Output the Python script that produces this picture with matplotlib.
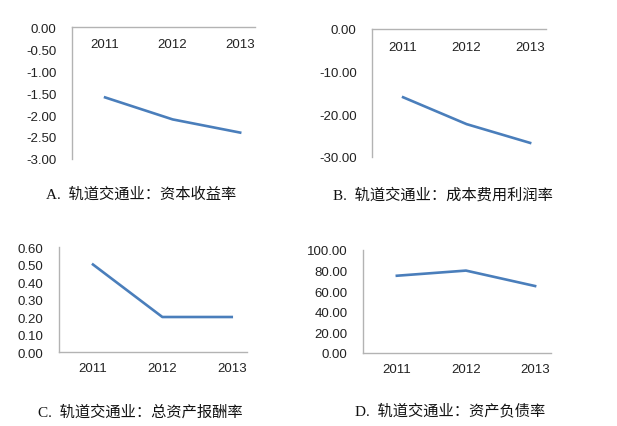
import matplotlib
matplotlib.use("Agg")
import matplotlib.pyplot as plt
from matplotlib.ticker import FormatStrFormatter
import numpy as np

plt.rcParams['axes.unicode_minus'] = False

# data
years = ['2011', '2012', '2013']
capital_return = [-1.60, -2.10, -2.40]        # A. 资本收益率
cost_profit = [-16.0, -22.3, -26.7]           # B. 成本费用利润率
asset_reward = [0.50, 0.20, 0.20]             # C. 总资产报酬率
debt_ratio = [75.0, 80.0, 65.0]               # D. 资产负债率

titles = ['A.  轨道交通业：资本收益率', 'B.  轨道交通业：成本费用利润率',
          'C.  轨道交通业：总资产报酬率', 'D.  轨道交通业：资产负债率']

line_color = '#4a7ebb'
spine_color = '#b3b3b3'
tick_font = ['Liberation Sans', 'DejaVu Sans']
title_font = ['Liberation Serif', 'Noto Sans CJK SC']

fig = plt.figure(figsize=(6.17, 4.27), dpi=100)


def style_axes(ax, ylim, yticks, xlim, top_axis, xpad):
    """Set up one small excel-like line panel"""
    ax.set_ylim(*ylim)
    ax.set_yticks(yticks)
    ax.set_xlim(*xlim)
    ax.set_xticks(range(len(years)))
    ax.set_xticklabels(years)
    ax.yaxis.set_major_formatter(FormatStrFormatter('%.2f'))
    ax.spines['right'].set_visible(False)
    for s in ['left', 'top', 'bottom']:
        ax.spines[s].set_color(spine_color)
        ax.spines[s].set_linewidth(1.0)
    if top_axis:
        ax.spines['bottom'].set_visible(False)
        ax.tick_params(axis='x', top=False, bottom=False, labeltop=True,
                       labelbottom=False, pad=xpad)
    else:
        ax.spines['top'].set_visible(False)
        ax.tick_params(axis='x', bottom=False, pad=xpad)
    ax.tick_params(axis='y', left=False, pad=7.5)
    for lab in ax.get_xticklabels() + ax.get_yticklabels():
        lab.set_family(tick_font)
        lab.set_fontsize(9.5)
        lab.set_color('#222222')


# Panel A
ax_a = fig.add_axes([0.1167, 0.6253, 0.2966, 0.3091])
ax_a.plot(range(3), capital_return, color=line_color, lw=1.9)
style_axes(ax_a, (-3.0, 0.0), np.arange(-3.0, 0.01, 0.5), (-0.49, 2.22), True, -19.7)

# Panel B
ax_b = fig.add_axes([0.6029, 0.6300, 0.2820, 0.2998])
ax_b.plot(range(3), cost_profit, color=line_color, lw=1.9)
style_axes(ax_b, (-30.0, 0.0), np.arange(-30.0, 0.01, 10.0), (-0.49, 2.25), True, -20.5)

# Panel C
ax_c = fig.add_axes([0.0956, 0.1733, 0.3047, 0.2459])
ax_c.plot(range(3), asset_reward, color=line_color, lw=1.9)
style_axes(ax_c, (0.0, 0.6), np.arange(0.0, 0.61, 0.1), (-0.49, 2.22), False, 4)

# Panel D
ax_d = fig.add_axes([0.5883, 0.1710, 0.3047, 0.2412])
ax_d.plot(range(3), debt_ratio, color=line_color, lw=1.9)
style_axes(ax_d, (0.0, 100.0), np.arange(0.0, 100.1, 20.0), (-0.49, 2.23), False, 4)

# captions under each panel
for (x, y), t in zip([(141, 195), (443, 195), (140, 412), (450, 411)], titles):
    fig.text(x / 617, 1 - y / 427, t, ha='center', va='center',
             family=title_font, fontsize=11, color='#111111')

fig.savefig('out.png', dpi=100)
